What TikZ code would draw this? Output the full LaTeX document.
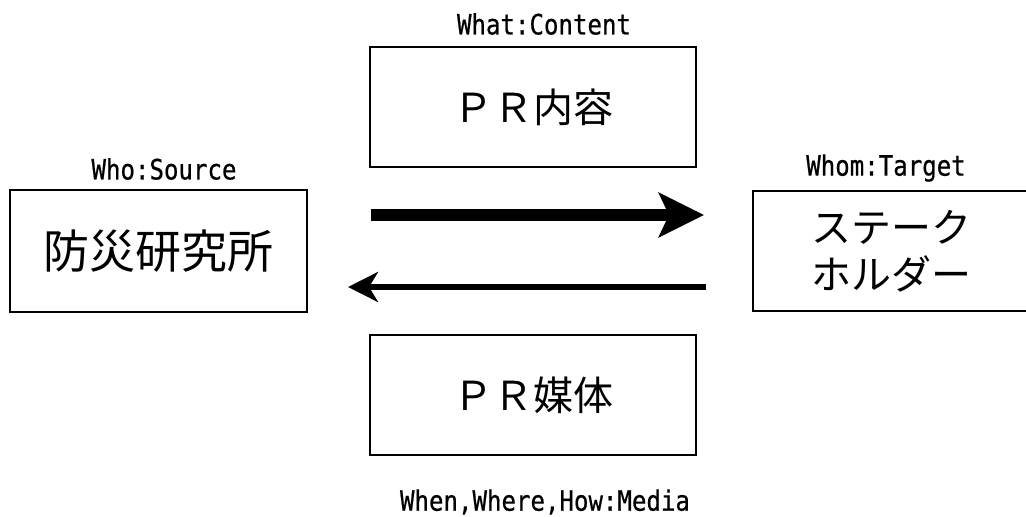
\documentclass[tikz,border=0pt]{standalone}
\usepackage{fontspec}
\usetikzlibrary{arrows.meta}
\newfontfamily\jpfont{Noto Sans CJK JP}
\newfontfamily\labfont[FakeStretch=0.86,FakeBold=0.6]{DejaVu Sans Mono}
\begin{document}
\begin{tikzpicture}[x=1pt,y=-1pt,
  box/.style={draw,line width=2pt,rectangle,inner sep=0pt,font=\jpfont\fontsize{40}{47}\selectfont,align=center},
  lab/.style={inner sep=0pt,font=\labfont\fontsize{28}{30}\selectfont},
  bigarrow/.style={line width=12pt,-{Stealth[length=45pt,width=44pt,inset=10pt]}},
  smallarrow/.style={line width=6pt,-{Stealth[length=30pt,width=30pt,inset=9pt]}}]
\useasboundingbox (0,0) rectangle (1026,517);
\clip (0,0) rectangle (1026,517);
\node[box,minimum width=297pt,minimum height=122pt,font=\jpfont\fontsize{46}{50}\selectfont] (src) at (158.5,251) {防災研究所};
\node[box,minimum width=276pt,minimum height=120pt] (dst) at (891,251) {ステーク\\ホルダー};
\node[box,minimum width=326pt,minimum height=120pt] (content) at (533,107) {ＰＲ内容};
\node[box,minimum width=326pt,minimum height=120pt] (media) at (533,395) {ＰＲ媒体};
\node[lab] (lsrc) at (164,169) {Who:Source};
\node[lab] (ldst) at (886,168) {Whom:Target};
\node[lab] (lcontent) at (544,24) {What:Content};
\node[lab] (lmedia) at (545,502) {When,Where,How:Media};
\draw[bigarrow,shorten <=63pt,shorten >=48pt] ([yshift=36pt]src.east) -- ([yshift=36pt]dst.west);
\draw[smallarrow,shorten <=46pt,shorten >=40pt] ([yshift=-36pt]dst.west) -- ([yshift=-36pt]src.east);
\end{tikzpicture}
\end{document}
